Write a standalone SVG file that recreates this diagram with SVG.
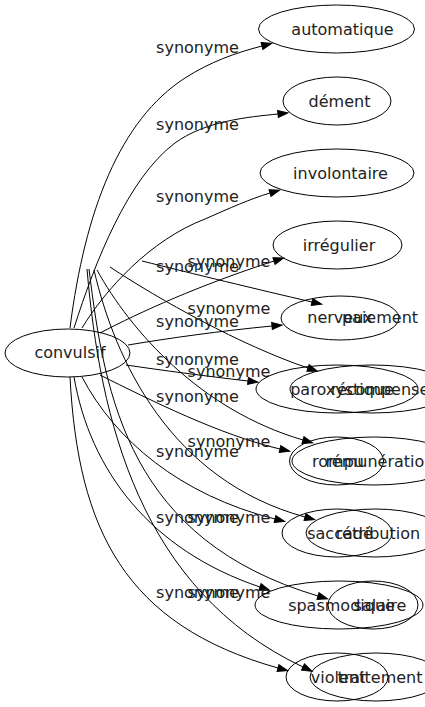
<svg xmlns="http://www.w3.org/2000/svg" width="425" height="707" viewBox="0 0 425 707">
<defs>
<marker id="arr" markerUnits="userSpaceOnUse" markerWidth="10" markerHeight="7" refX="0" refY="0" orient="auto" overflow="visible">
<path d="M0,-3.5 L10,0 L0,3.5 Z" fill="#000" stroke="#000" stroke-width="1"/>
</marker>
<style>
.n ellipse{fill:none;stroke:#000;stroke-width:1}
text{font-family:"DejaVu Sans","Liberation Sans",sans-serif;font-size:16px;fill:#222;text-anchor:middle}
.e path{fill:none;stroke:#000;stroke-width:1;marker-end:url(#arr)}
</style>
</defs>
<rect width="425" height="707" fill="#fff"/>
<g id="edges" class="e">
<path d="M70,328 C85,210 120,120 185,78 C210,62 235,53 262,46"/>
<path d="M74,328 C95,262 128,178 175,143 C205,121 248,117 278,114"/>
<path d="M82,328 C105,290 150,240 205,219 C230,208 250,199 270,193"/>
<path d="M100,333 C140,312 200,285 274,261"/>
<path d="M128,345 C170,338 220,331 272,326"/>
<path d="M126,365 C160,370 205,376 248,381"/>
<path d="M100,375 C150,400 220,435 280,449"/>
<path d="M82,377 C115,440 180,495 275,519"/>
<path d="M74,377 C90,470 150,550 260,587"/>
<path d="M70,377 C78,530 125,625 278,668"/>
<path d="M142,261 C190,273 260,290 312,302"/>
<path d="M110,267 C160,300 240,345 308,368"/>
<path d="M97,270 C130,330 200,410 303,440"/>
<path d="M94,270 C115,360 170,480 305,517"/>
<path d="M89,269 C105,400 130,540 318,596"/>
<path d="M87,269 C100,420 140,590 303,667"/>
</g>
<g id="edge-labels">
<text x="197.5" y="53">synonyme</text>
<text x="197.5" y="130">synonyme</text>
<text x="197.5" y="202">synonyme</text>
<text x="197.5" y="272">synonyme</text>
<text x="197.5" y="327">synonyme</text>
<text x="197.5" y="365">synonyme</text>
<text x="197.5" y="402">synonyme</text>
<text x="197.5" y="457">synonyme</text>
<text x="197.5" y="523">synonyme</text>
<text x="197.5" y="598">synonyme</text>
<text x="229" y="267">synonyme</text>
<text x="229" y="314">synonyme</text>
<text x="229" y="377">synonyme</text>
<text x="229" y="447">synonyme</text>
<text x="229" y="523">synonyme</text>
<text x="229" y="598">synonyme</text>
</g>
<g id="convulsif" class="n"><ellipse cx="67.5" cy="353" rx="62.5" ry="24"/><text x="70" y="358">convulsif</text></g>
<g id="automatique" class="n"><ellipse cx="336.5" cy="29" rx="78" ry="24"/><text x="342.5" y="35">automatique</text></g>
<g id="dement" class="n"><ellipse cx="337" cy="101" rx="54" ry="24"/><text x="339.5" y="107">dément</text></g>
<g id="involontaire" class="n"><ellipse cx="337" cy="173" rx="77" ry="24"/><text x="340.5" y="179">involontaire</text></g>
<g id="irregulier" class="n"><ellipse cx="337.5" cy="245" rx="64.5" ry="24"/><text x="339" y="251">irrégulier</text></g>
<g id="nerveux" class="n"><ellipse cx="340" cy="318" rx="59" ry="22"/><text x="340" y="323">nerveux</text></g>
<g id="paroxystique" class="n"><ellipse cx="337" cy="389" rx="81" ry="24"/><text x="342" y="395">paroxystique</text></g>
<g id="rompu" class="n"><ellipse cx="336.5" cy="461" rx="47" ry="24"/><text x="338" y="467">rompu</text></g>
<g id="saccade" class="n"><ellipse cx="337" cy="533" rx="55" ry="24"/><text x="340" y="539">saccadé</text></g>
<g id="spasmodique" class="n"><ellipse cx="339" cy="605" rx="84" ry="24"/><text x="341.5" y="611">spasmodique</text></g>
<g id="violent" class="n"><ellipse cx="337" cy="677" rx="51" ry="24"/><text x="338" y="683">violent</text></g>
<g id="paiement" class="n"><text x="380" y="323">paiement</text></g>
<g id="recompense" class="n"><ellipse cx="372" cy="389" rx="82" ry="24"/><text x="380" y="395">récompense</text></g>
<g id="remuneration" class="n"><ellipse cx="374" cy="461" rx="82" ry="24"/><text x="380" y="467">rémunération</text></g>
<g id="retribution" class="n"><ellipse cx="375" cy="533" rx="69" ry="24"/><text x="378" y="539">rétribution</text></g>
<g id="salaire" class="n"><ellipse cx="373" cy="605" rx="45" ry="24"/><text x="380" y="611">salaire</text></g>
<g id="traitement" class="n"><ellipse cx="376" cy="677" rx="66" ry="24"/><text x="380" y="683">traitement</text></g>
</svg>
